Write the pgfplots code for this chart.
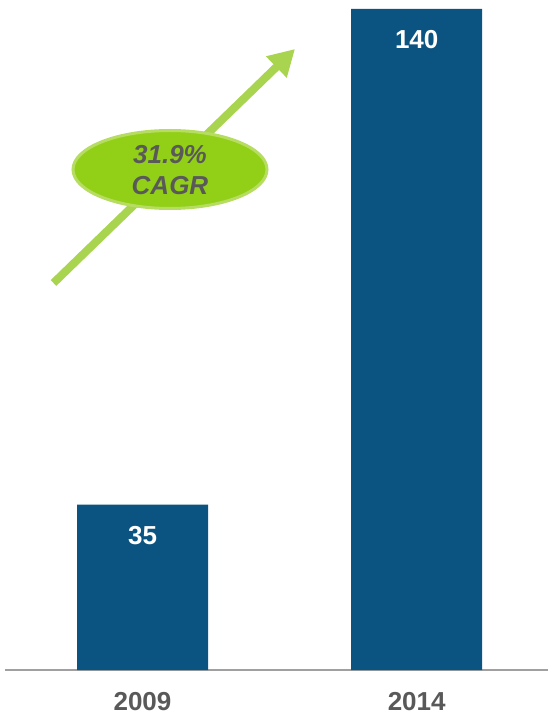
\documentclass[border=0pt]{standalone}
\usepackage{pgfplots}
\pgfplotsset{compat=1.18}
\usepackage{fontspec}
\setmainfont{Liberation Sans}
\usetikzlibrary{arrows.meta}
\definecolor{barblue}{RGB}{11,83,128}
\definecolor{labgray}{RGB}{89,89,89}
\definecolor{axisgray}{RGB}{160,160,160}
\definecolor{arrowgreen}{RGB}{168,212,79}
\definecolor{ellfill}{RGB}{146,208,24}
\definecolor{elldraw}{RGB}{182,221,98}
\begin{document}
\begin{tikzpicture}
\path[use as bounding box] (0,0) rectangle (548pt,716pt);
\begin{axis}[
  at={(5pt,46pt)}, anchor=south west,
  scale only axis, width=543pt, height=661pt,
  xmin=-0.5015, xmax=1.4789, ymin=0, ymax=140,
  ybar, bar width=131pt, bar shift=0pt,
  axis y line=none, ytick=\empty,
  axis x line=bottom,
  x axis line style={-, draw=axisgray, line width=1.5pt},
  xtick={0,1}, xticklabels={2009,2014}, major tick length=0pt,
  xticklabel style={font=\bfseries\fontsize{26}{30}\selectfont, text=labgray, anchor=center, yshift=-32pt},
  /pgf/number format/assume math mode=true,
  nodes near coords,
  every node near coord/.append style={font=\bfseries\fontsize{26}{30}\selectfont, text=white, anchor=north, inner sep=0pt, yshift=-21pt},
  clip=false,
]
\addplot[fill=barblue, draw=none] coordinates {(0,35) (1,140)};
\end{axis}
\draw[arrowgreen, line width=8pt, -{Triangle[length=26pt,width=28pt]}] (53.5pt,433pt) -- (295pt,667pt);
\draw[elldraw, line width=3pt, fill=ellfill] (170pt,546.5pt) ellipse [x radius=97pt, y radius=39pt];
\node[align=center, text=labgray, font=\bfseries\itshape\fontsize{26}{31}\selectfont, inner sep=0pt] at (170pt,546pt) {31.9\%\\CAGR};
\end{tikzpicture}
\end{document}
